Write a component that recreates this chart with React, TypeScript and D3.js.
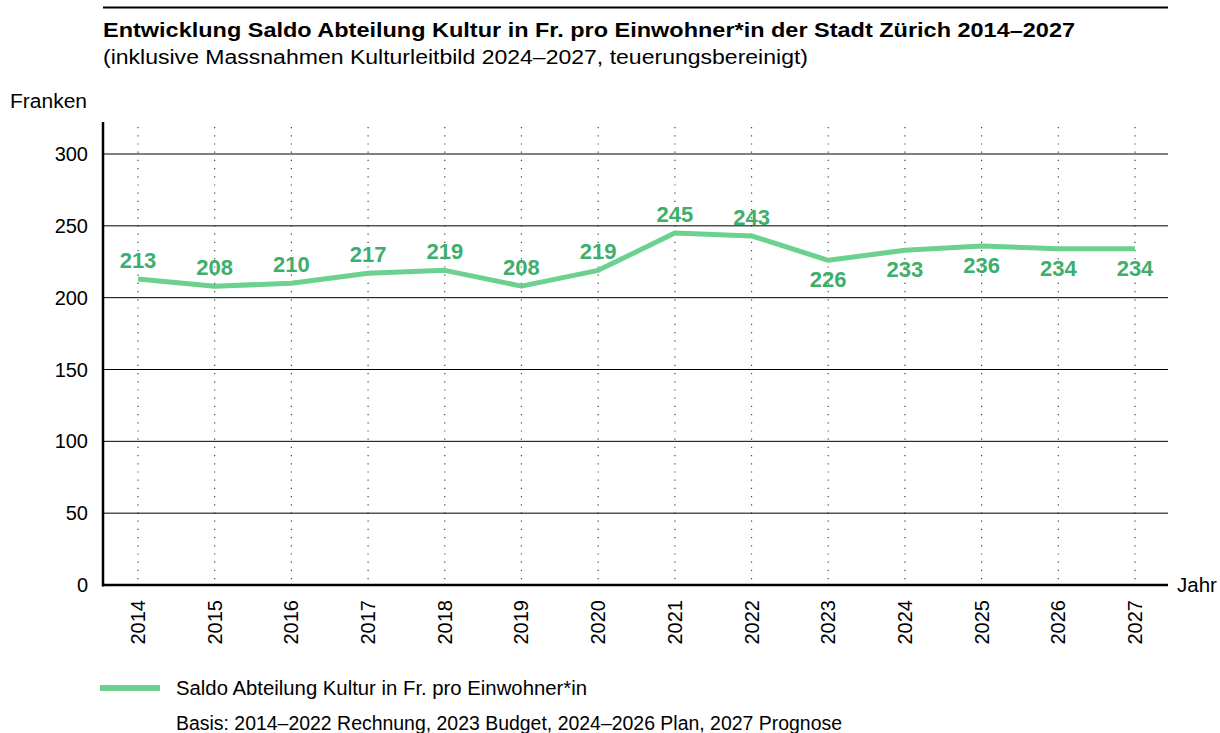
import React from "react";
import * as d3 from "d3";

const years = [2014, 2015, 2016, 2017, 2018, 2019, 2020, 2021, 2022, 2023, 2024, 2025, 2026, 2027];
const values = [213, 208, 210, 217, 219, 208, 219, 245, 243, 226, 233, 236, 234, 234];
const labelBelow = [false, false, false, false, false, false, false, false, false, true, true, true, true, true];
const yTicks = [0, 50, 100, 150, 200, 250, 300];

const FONT = "'Liberation Sans', Arial, Helvetica, sans-serif";
const LINE = "#6cd08e";
const LABEL = "#3dae6c";

export default function App() {
  const W = 1220, H = 733;
  const left = 103, right = 1168, top = 122, bottom = 585;
  const x = d3.scalePoint<number>().domain(years).range([138, 1135]);
  const y = d3.scaleLinear().domain([0, 300]).range([bottom, 154]);
  const line = d3.line<number>().x((_, i) => x(years[i])!).y((d) => y(d));

  return (
    <svg width={W} height={H} style={{ position: "absolute", left: 0, top: 0 }} fontFamily={FONT}>
      <line x1={103} x2={1168} y1={7.5} y2={7.5} stroke="#000" strokeWidth={2.2} />
      <text x={103} y={37} fontSize={20.5} fontWeight="bold" fill="#000" textLength={972} lengthAdjust="spacingAndGlyphs">
        Entwicklung Saldo Abteilung Kultur in Fr. pro Einwohner*in der Stadt Zürich 2014–2027
      </text>
      <text x={103} y={64} fontSize={20} fill="#000" textLength={705} lengthAdjust="spacingAndGlyphs">
        (inklusive Massnahmen Kulturleitbild 2024–2027, teuerungsbereinigt)
      </text>
      <text x={10} y={108} fontSize={20} fill="#000" textLength={77} lengthAdjust="spacingAndGlyphs">Franken</text>

      {years.map((yr) => (
        <line key={"v" + yr} x1={x(yr)} x2={x(yr)} y1={top + 5} y2={bottom} stroke="#444" strokeWidth={1.2} strokeDasharray="1.2,7" />
      ))}
      {yTicks.filter((t) => t > 0).map((t) => (
        <line key={"g" + t} x1={left} x2={right} y1={y(t)} y2={y(t)} stroke="#000" strokeWidth={1} />
      ))}
      {yTicks.map((t) => (
        <text key={"t" + t} x={88} y={y(t) + 7} fontSize={20} textAnchor="end" fill="#000">{t}</text>
      ))}
      <line x1={left} x2={left} y1={top} y2={bottom + 1.5} stroke="#000" strokeWidth={2.5} />
      <line x1={left} x2={right} y1={bottom} y2={bottom} stroke="#000" strokeWidth={2.5} />
      <text x={1177} y={592} fontSize={20.5} fill="#000">Jahr</text>
      {years.map((yr) => (
        <text key={"x" + yr} transform={`translate(${x(yr)! + 7},600) rotate(-90)`} fontSize={20} textAnchor="end" fill="#000">{yr}</text>
      ))}

      <path d={line(values) ?? ""} fill="none" stroke={LINE} strokeWidth={5} strokeLinejoin="round" />
      {values.map((v, i) => (
        <text key={"l" + i} x={x(years[i])} y={labelBelow[i] ? y(v) + 27 : y(v) - 11} fontSize={22} fontWeight="bold" textAnchor="middle" fill={LABEL}>{v}</text>
      ))}

      <line x1={100} x2={160} y1={688} y2={688} stroke={LINE} strokeWidth={6} />
      <text x={176} y={695} fontSize={20} fill="#000" textLength={411} lengthAdjust="spacingAndGlyphs">Saldo Abteilung Kultur in Fr. pro Einwohner*in</text>
      <text x={176} y={730} fontSize={19.5} fill="#000" textLength={666} lengthAdjust="spacingAndGlyphs">Basis: 2014–2022 Rechnung, 2023 Budget, 2024–2026 Plan, 2027 Prognose</text>
    </svg>
  );
}
